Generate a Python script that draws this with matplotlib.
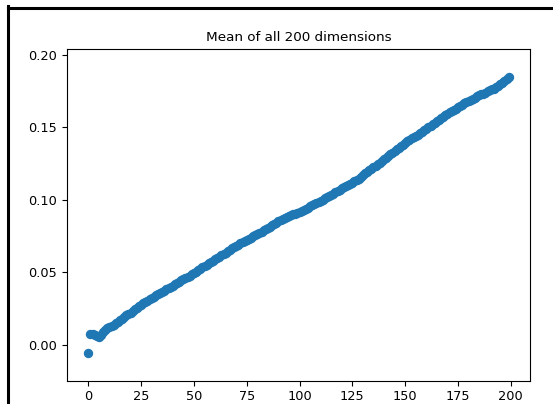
import matplotlib
matplotlib.use("Agg")
import matplotlib.pyplot as plt
from matplotlib.lines import Line2D

title = "Mean of all 200 dimensions"
xticks = [0, 25, 50, 75, 100, 125, 150, 175, 200]
yticks = [0.00, 0.05, 0.10, 0.15, 0.20]

means = [
    -0.0060, 0.0072, 0.0073, 0.0069, 0.0060, 0.0056, 0.0066, 0.0088, 0.0103, 0.0112,
    0.0120, 0.0129, 0.0139, 0.0147, 0.0158, 0.0169, 0.0177, 0.0189, 0.0203, 0.0211,
    0.0219, 0.0231, 0.0243, 0.0252, 0.0264, 0.0276, 0.0287, 0.0295, 0.0303, 0.0313,
    0.0321, 0.0330, 0.0340, 0.0351, 0.0357, 0.0364, 0.0373, 0.0381, 0.0391, 0.0401,
    0.0408, 0.0418, 0.0427, 0.0434, 0.0443, 0.0453, 0.0461, 0.0469, 0.0477, 0.0486,
    0.0494, 0.0504, 0.0514, 0.0525, 0.0535, 0.0544, 0.0553, 0.0563, 0.0572, 0.0580,
    0.0588, 0.0596, 0.0607, 0.0617, 0.0626, 0.0635, 0.0645, 0.0654, 0.0664, 0.0673,
    0.0681, 0.0690, 0.0700, 0.0708, 0.0715, 0.0722, 0.0730, 0.0739, 0.0747, 0.0754,
    0.0762, 0.0771, 0.0780, 0.0788, 0.0796, 0.0805, 0.0815, 0.0825, 0.0833, 0.0842,
    0.0852, 0.0862, 0.0869, 0.0874, 0.0880, 0.0887, 0.0894, 0.0899, 0.0903, 0.0908,
    0.0914, 0.0921, 0.0929, 0.0937, 0.0946, 0.0955, 0.0962, 0.0968, 0.0975, 0.0983,
    0.0991, 0.1000, 0.1010, 0.1019, 0.1028, 0.1036, 0.1043, 0.1052, 0.1062, 0.1071,
    0.1078, 0.1085, 0.1093, 0.1102, 0.1110, 0.1118, 0.1127, 0.1137, 0.1146, 0.1156,
    0.1174, 0.1182, 0.1192, 0.1203, 0.1214, 0.1225, 0.1235, 0.1245, 0.1255, 0.1267,
    0.1279, 0.1291, 0.1302, 0.1314, 0.1325, 0.1336, 0.1348, 0.1360, 0.1371, 0.1381,
    0.1392, 0.1404, 0.1415, 0.1424, 0.1432, 0.1440, 0.1450, 0.1459, 0.1470, 0.1480,
    0.1490, 0.1500, 0.1510, 0.1521, 0.1532, 0.1543, 0.1553, 0.1562, 0.1571, 0.1582,
    0.1593, 0.1603, 0.1613, 0.1622, 0.1630, 0.1639, 0.1647, 0.1656, 0.1665, 0.1674,
    0.1682, 0.1689, 0.1697, 0.1706, 0.1715, 0.1722, 0.1727, 0.1732, 0.1740, 0.1749,
    0.1757, 0.1763, 0.1768, 0.1777, 0.1788, 0.1797, 0.1806, 0.1821, 0.1833, 0.1848,
]
dims = list(range(len(means)))

W, H = 553, 404
fig = plt.figure(figsize=(W / 100, H / 100), dpi=100)
ax = fig.add_axes([67 / W, 1 - 380.7 / H, (530 - 67) / W, (380.7 - 49.3) / H])
ax.scatter(dims, means, s=33, color="#1f77b4")
ax.set_xticks(xticks)
ax.set_yticks(yticks)
ax.set_ylim(-0.0249, 0.2039)
ax.set_xlim(-10.1, 209.1)
ax.tick_params(labelsize=9.3)
ax.set_title(title, fontsize=9.7)

# black frame lines at left and top of image
fig.add_artist(Line2D([7.5 / W, 7.5 / W], [0, 1 - 6 / H], transform=fig.transFigure,
                      color="black", linewidth=2.2, solid_capstyle="projecting"))
fig.add_artist(Line2D([7.5 / W, 1], [1 - 7.5 / H, 1 - 7.5 / H], transform=fig.transFigure,
                      color="black", linewidth=2.2, solid_capstyle="projecting"))

fig.savefig("out.png", dpi=100)
